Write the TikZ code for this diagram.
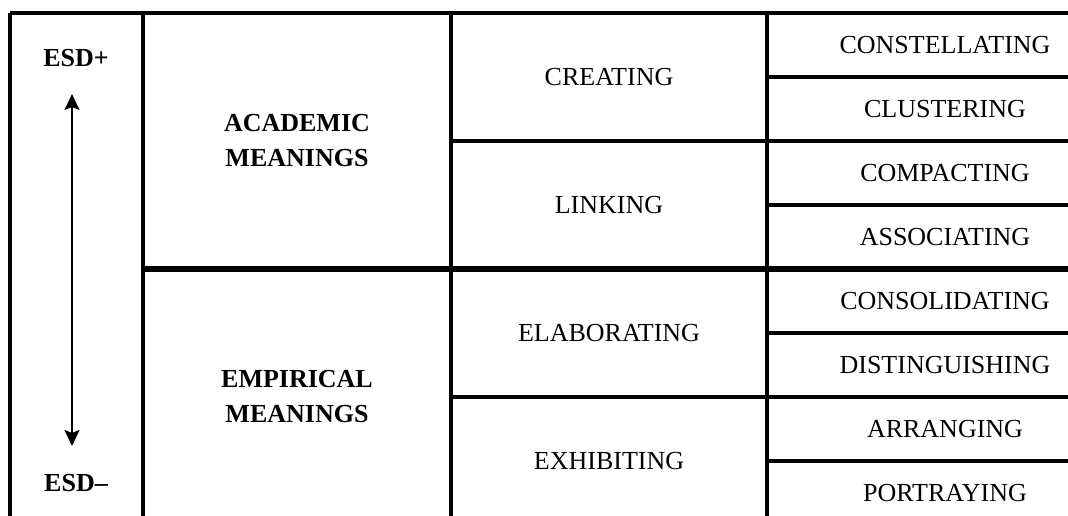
\documentclass[tikz,border=0pt]{standalone}
\usepackage{fontspec}
\setmainfont{Liberation Serif}
\usetikzlibrary{arrows.meta}
\begin{document}
\begin{tikzpicture}[x=1pt,y=-1pt,
  rule/.style={line width=3.2pt},
  thickrule/.style={line width=6pt},
  lbl/.style={inner sep=0pt,font=\fontsize{26}{35}\selectfont,align=center},
  blbl/.style={lbl,font=\fontsize{26}{35}\selectfont\bfseries},
  axis/.style={line width=2pt,{Stealth[length=16pt,width=15pt,inset=3pt]}-{Stealth[length=16pt,width=15pt,inset=3pt]}}]
\useasboundingbox (0,0) rectangle (1068,516);
% grid
\draw[rule] (10,13) -- (1068,13);
\draw[rule] (10,13) -- (10,520);
\draw[rule] (143,13) -- (143,520);
\draw[rule] (451,13) -- (451,520);
\draw[rule] (767,13) -- (767,520);
\draw[rule] (767,77) -- (1070,77);
\draw[rule] (451,141) -- (1070,141);
\draw[rule] (767,205) -- (1070,205);
\draw[thickrule] (143,269) -- (1070,269);
\draw[rule] (767,333) -- (1070,333);
\draw[rule] (451,397) -- (1070,397);
\draw[rule] (767,461) -- (1070,461);
% column 1
\node[blbl] (esdp) at (76,58) {ESD+};
\node[blbl] (esdm) at (76,483) {ESD–};
\coordinate (atop) at (72,94);
\coordinate (abot) at (72,446);
\draw[axis] (atop) -- (abot);
% column 2
\node[blbl] (acad) at (297,141) {ACADEMIC\\MEANINGS};
\node[blbl] (emp) at (297,397) {EMPIRICAL\\MEANINGS};
% column 3
\node[lbl] (creat) at (609,77) {CREATING};
\node[lbl] (link) at (609,205) {LINKING};
\node[lbl] (elab) at (609,333) {ELABORATING};
\node[lbl] (exhib) at (609,461) {EXHIBITING};
% column 4
\node[lbl] (const) at (945,45) {CONSTELLATING};
\node[lbl] (clust) at (945,109) {CLUSTERING};
\node[lbl] (compa) at (945,173) {COMPACTING};
\node[lbl] (assoc) at (945,237) {ASSOCIATING};
\node[lbl] (conso) at (945,301) {CONSOLIDATING};
\node[lbl] (disti) at (945,365) {DISTINGUISHING};
\node[lbl] (arran) at (945,429) {ARRANGING};
\node[lbl] (portr) at (945,493) {PORTRAYING};
\end{tikzpicture}
\end{document}
